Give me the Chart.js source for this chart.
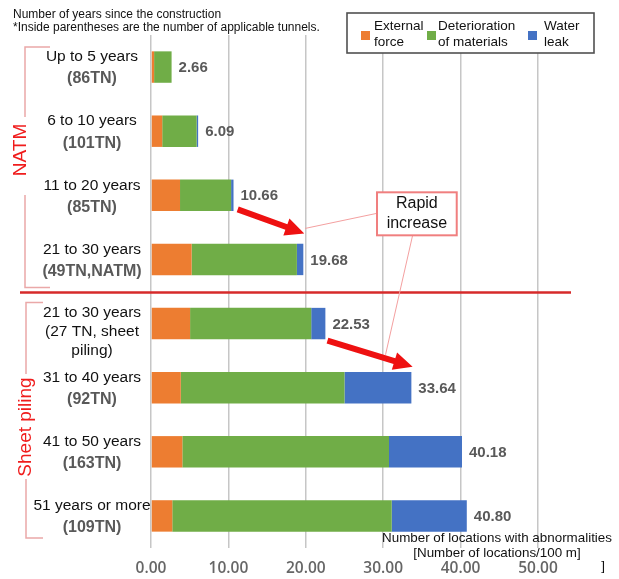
<!DOCTYPE html>
<html>
<head>
<meta charset="utf-8">
<script src="https://cdn.jsdelivr.net/npm/chart.js@4.4.1/dist/chart.umd.min.js"></script>
<style>
  html, body { margin: 0; padding: 0; background: #fff; }
  #wrap { width: 619px; height: 579px; }
</style>
</head>
<body>
<div id="wrap"><canvas id="myChart" width="619" height="579"></canvas></div>
<script>
// years since construction, with tunnel counts
const categories = [
  ["Up to 5 years", "(86TN)"],
  ["6 to 10 years", "(101TN)"],
  ["11 to 20 years", "(85TN)"],
  ["21 to 30 years", "(49TN,NATM)"],
  ["21 to 30 years", "(27 TN, sheet", "piling)"],
  ["31 to 40 years", "(92TN)"],
  ["41 to 50 years", "(163TN)"],
  ["51 years or more", "(109TN)"]
];
const externalForce = [0.4, 1.45, 3.75, 5.25, 5.05, 3.85, 4.05, 2.75];
const deterioration = [2.26, 4.45, 6.6, 13.6, 15.65, 21.15, 26.7, 28.35];
const waterLeak = [0, 0.19, 0.31, 0.83, 1.83, 8.64, 9.43, 9.7];
const totals = [2.66, 6.09, 10.66, 19.68, 22.53, 33.64, 40.18, 40.80];
const xMax = 50;
const xStep = 10;

const seriesNames = [["External", "force"], ["Deterioration", "of materials"], ["Water", "leak"]];
const seriesColors = ["#ED7D31", "#70AD47", "#4472C4"];

function drawArrow(ctx, x1, y1, x2, y2) {
  const ang = Math.atan2(y2 - y1, x2 - x1);
  const headLen = 19, headW = 9, shaft = 3;
  const bx = x2 - headLen * Math.cos(ang);
  const by = y2 - headLen * Math.sin(ang);
  const nx = -Math.sin(ang), ny = Math.cos(ang);
  ctx.save();
  ctx.fillStyle = "#ee1111";
  ctx.beginPath();
  ctx.moveTo(x1 + nx * shaft, y1 + ny * shaft);
  ctx.lineTo(bx + nx * shaft, by + ny * shaft);
  ctx.lineTo(bx + nx * headW, by + ny * headW);
  ctx.lineTo(x2, y2);
  ctx.lineTo(bx - nx * headW, by - ny * headW);
  ctx.lineTo(bx - nx * shaft, by - ny * shaft);
  ctx.lineTo(x1 - nx * shaft, y1 - ny * shaft);
  ctx.closePath();
  ctx.fill();
  ctx.restore();
}

const overlay = {
  id: "overlay",
  beforeDraw(chart) {
    const ctx = chart.ctx;
    ctx.save();
    ctx.fillStyle = "#fff";
    ctx.fillRect(0, 0, chart.width, chart.height);
    ctx.restore();
  },
  afterDraw(chart) {
    const ctx = chart.ctx;
    const xs = chart.scales.x;
    const ys = chart.scales.y;
    const py = i => ys.getPixelForValue(i);
    ctx.save();

    // header notes
    ctx.fillStyle = "#111";
    ctx.font = "12px 'Liberation Sans', Arial";
    ctx.textAlign = "left";
    ctx.textBaseline = "middle";
    ctx.fillText("Number of years since the construction", 13, 15);
    ctx.fillText("*Inside parentheses are the number of applicable tunnels.", 13, 28);

    // legend box
    ctx.fillStyle = "#fff";
    ctx.fillRect(347, 13, 247, 40);
    ctx.strokeStyle = "#505050";
    ctx.lineWidth = 1.6;
    ctx.strokeRect(347, 13, 247, 40);
    const sqX = [361, 427, 528];
    const txX = [374, 438, 544];
    ctx.font = "13.5px 'Liberation Sans', Arial";
    seriesNames.forEach((nm, k) => {
      ctx.fillStyle = seriesColors[k];
      ctx.fillRect(sqX[k], 31, 9, 9);
      ctx.fillStyle = "#111";
      ctx.fillText(nm[0], txX[k], 26);
      ctx.fillText(nm[1], txX[k], 42);
    });

    // category labels
    ctx.textAlign = "center";
    categories.forEach((lines, i) => {
      const cy = py(i);
      if (lines.length > 2) {
        ctx.fillStyle = "#111";
        ctx.font = "15.5px 'Liberation Sans', Arial";
        const offs = [-11, 8, 27];
        lines.forEach((ln, j) => ctx.fillText(ln, 92, cy + offs[j]));
      } else {
        ctx.fillStyle = "#111";
        ctx.font = "15.5px 'Liberation Sans', Arial";
        ctx.fillText(lines[0], 92, cy - 10);
        ctx.fillStyle = "#595959";
        ctx.font = "bold 16px 'Liberation Sans', Arial";
        ctx.fillText(lines[1], 92, cy + 12);
      }
    });

    // totals at bar ends
    ctx.textAlign = "left";
    ctx.fillStyle = "#595959";
    ctx.font = "bold 15px 'Liberation Sans', Arial";
    totals.forEach((t, i) => {
      ctx.fillText(t.toFixed(2), xs.getPixelForValue(t) + 7, py(i) + 1);
    });

    // group brackets
    ctx.strokeStyle = "#eaa8a8";
    ctx.lineWidth = 1.5;
    const natTop = py(0) - 20, natBot = py(3) + 28;
    ctx.beginPath();
    ctx.moveTo(50, natTop); ctx.lineTo(25, natTop); ctx.lineTo(25, 117);
    ctx.moveTo(25, 195); ctx.lineTo(25, natBot); ctx.lineTo(50, natBot);
    const spTop = py(4) - 21, spBot = py(7) + 22;
    ctx.moveTo(43, spTop); ctx.lineTo(26, spTop); ctx.lineTo(26, 374);
    ctx.moveTo(26, 479); ctx.lineTo(26, spBot); ctx.lineTo(43, spBot);
    ctx.stroke();

    ctx.fillStyle = "#f01c1c";
    ctx.font = "19px 'Liberation Sans', Arial";
    ctx.textAlign = "center";
    ctx.save();
    ctx.translate(21, 150);
    ctx.rotate(-Math.PI / 2);
    ctx.fillText("NATM", 0, 0);
    ctx.restore();
    ctx.save();
    ctx.translate(26, 427);
    ctx.rotate(-Math.PI / 2);
    ctx.fillText("Sheet piling", 0, 0);
    ctx.restore();

    // separator between construction methods
    const sepY = (py(3) + py(4)) / 2 + 1;
    ctx.strokeStyle = "#d62a2a";
    ctx.lineWidth = 2.5;
    ctx.beginPath();
    ctx.moveTo(20, sepY);
    ctx.lineTo(571, sepY);
    ctx.stroke();

    // callout leader lines
    const bx1 = xs.getPixelForValue(29.2), bx2 = xs.getPixelForValue(39.5);
    const by1 = py(2) - 3, by2 = py(2) + 40;
    ctx.strokeStyle = "#f4a0a0";
    ctx.lineWidth = 1;
    ctx.beginPath();
    ctx.moveTo(bx1, by1 + 21);
    ctx.lineTo(xs.getPixelForValue(19.9), py(3) - 31);
    ctx.moveTo(xs.getPixelForValue(33.8), by2);
    ctx.lineTo(xs.getPixelForValue(30.3), py(5) - 33);
    ctx.stroke();

    // arrows
    drawArrow(ctx, xs.getPixelForValue(11.2), py(2) + 14, xs.getPixelForValue(19.8), py(3) - 26);
    drawArrow(ctx, xs.getPixelForValue(22.8), py(4) + 17, xs.getPixelForValue(33.8), py(5) - 21);

    // callout box
    ctx.fillStyle = "#fff";
    ctx.fillRect(bx1, by1, bx2 - bx1, by2 - by1);
    ctx.strokeStyle = "#f07f7f";
    ctx.lineWidth = 2;
    ctx.strokeRect(bx1, by1, bx2 - bx1, by2 - by1);
    ctx.fillStyle = "#111";
    ctx.font = "16px 'Liberation Sans', Arial";
    ctx.textAlign = "center";
    ctx.fillText("Rapid", (bx1 + bx2) / 2, by1 + 11);
    ctx.fillText("increase", (bx1 + bx2) / 2, by1 + 31);

    // axis title
    ctx.font = "13.4px 'Liberation Sans', Arial";
    ctx.fillText("Number of locations with abnormalities", 497, 538);
    ctx.fillText("[Number of locations/100 m]", 497, 553);
    ctx.fillText("]", 603, 566);

    ctx.restore();
  }
};

function initChart(target) {
  const data = {
    labels: categories,
    datasets: [
      { label: "External force", data: externalForce, backgroundColor: seriesColors[0] },
      { label: "Deterioration of materials", data: deterioration, backgroundColor: seriesColors[1] },
      { label: "Water leak", data: waterLeak, backgroundColor: seriesColors[2] }
    ]
  };
  const config = {
    type: "bar",
    data: data,
    options: {
      indexAxis: "y",
      responsive: false,
      animation: false,
      categoryPercentage: 0.49,
      barPercentage: 1,
      layout: { padding: { left: 151, right: 81, top: 35, bottom: 0 } },
      plugins: { legend: { display: false }, tooltip: { enabled: false } },
      scales: {
        x: {
          stacked: true,
          min: 0,
          max: xMax,
          border: { display: false },
          grid: { color: "#c6c6c6", lineWidth: 1.5, drawTicks: false },
          ticks: {
            stepSize: xStep,
            padding: 11,
            color: "#666666",
            font: { family: "'Open Sans', 'Liberation Sans', Arial", size: 15.5, weight: "600" },
            callback: v => Number(v).toFixed(2)
          },
          afterFit: s => { s.height = 31; }
        },
        y: { stacked: true, display: false }
      }
    },
    plugins: [overlay]
  };
  return new Chart(target, config);
}

document.addEventListener("DOMContentLoaded", () => initChart(document.querySelector("#myChart")));
</script>
</body>
</html>
